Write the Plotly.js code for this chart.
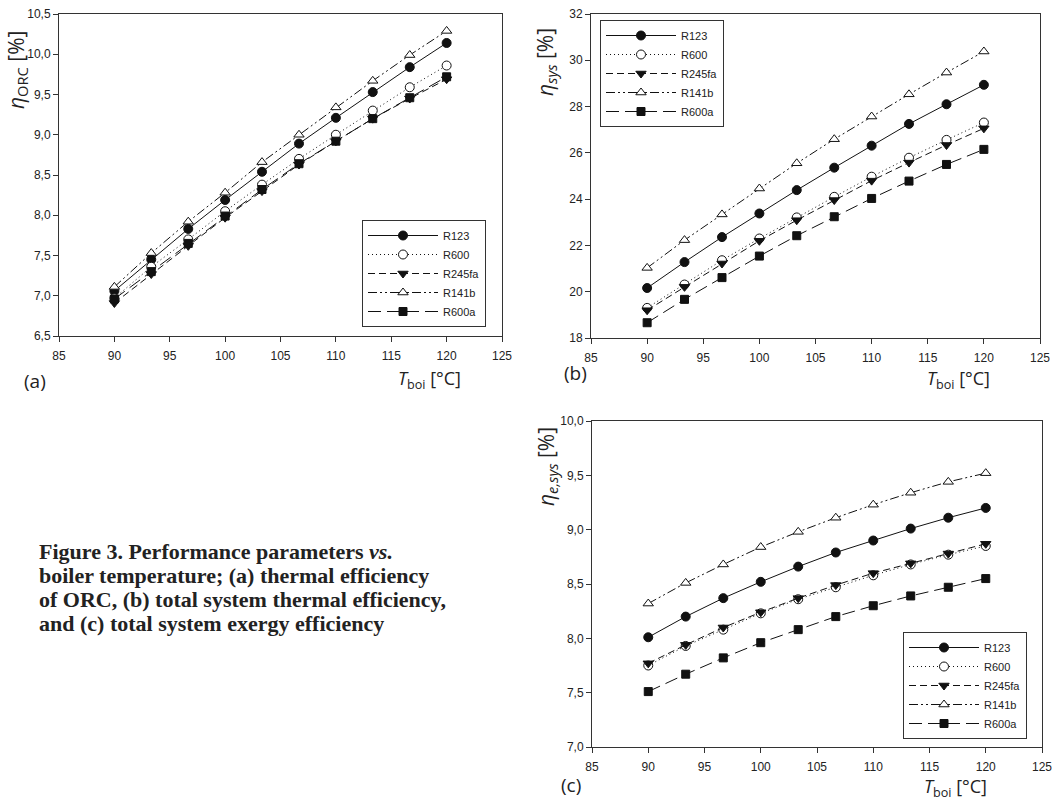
<!DOCTYPE html>
<html><head><meta charset="utf-8">
<script src="https://cdn.plot.ly/plotly-3.0.1.min.js"></script>
<style>html,body{margin:0;padding:0;background:#fff}#chart{width:1057px;height:801px}</style>
</head><body><div id="chart"></div>
<script>
// ---------- data ----------
const tboi = [90, 93.33, 96.67, 100, 103.33, 106.67, 110, 113.33, 116.67, 120];
const refrigerants = ['R123', 'R600', 'R245fa', 'R141b', 'R600a'];

// (a) ORC thermal efficiency [%]
const orcR123   = [7.06, 7.45, 7.83, 8.19, 8.54, 8.89, 9.21, 9.53, 9.84, 10.14];
const orcR600   = [6.97, 7.36, 7.70, 8.05, 8.38, 8.70, 9.00, 9.30, 9.59, 9.86];
const orcR245fa = [6.91, 7.27, 7.62, 7.97, 8.30, 8.63, 8.92, 9.20, 9.45, 9.69];
const orcR141b  = [7.11, 7.53, 7.92, 8.28, 8.66, 9.00, 9.34, 9.67, 9.99, 10.29];
const orcR600a  = [6.96, 7.30, 7.65, 7.99, 8.32, 8.64, 8.92, 9.20, 9.46, 9.72];

// (b) total system thermal efficiency [%]
const sysR123   = [20.16, 21.28, 22.36, 23.38, 24.39, 25.36, 26.31, 27.25, 28.10, 28.94];
const sysR600   = [19.30, 20.31, 21.36, 22.30, 23.21, 24.10, 24.97, 25.79, 26.56, 27.31];
const sysR245fa = [19.20, 20.21, 21.22, 22.20, 23.09, 23.96, 24.80, 25.58, 26.34, 27.06];
const sysR141b  = [21.03, 22.23, 23.34, 24.46, 25.55, 26.59, 27.57, 28.53, 29.47, 30.38];
const sysR600a  = [18.66, 19.67, 20.61, 21.54, 22.42, 23.24, 24.03, 24.78, 25.50, 26.15];

// (c) total system exergy efficiency [%]
const exR123   = [8.01, 8.20, 8.37, 8.52, 8.66, 8.79, 8.90, 9.01, 9.11, 9.20];
const exR600   = [7.75, 7.93, 8.08, 8.23, 8.36, 8.47, 8.58, 8.68, 8.77, 8.85];
const exR245fa = [7.77, 7.94, 8.10, 8.24, 8.37, 8.49, 8.60, 8.69, 8.78, 8.87];
const exR141b  = [8.32, 8.51, 8.68, 8.84, 8.98, 9.11, 9.23, 9.34, 9.44, 9.52];
const exR600a  = [7.51, 7.67, 7.82, 7.96, 8.08, 8.20, 8.30, 8.39, 8.47, 8.55];

const panelA = [orcR123, orcR600, orcR245fa, orcR141b, orcR600a];
const panelB = [sysR123, sysR600, sysR245fa, sysR141b, sysR600a];
const panelC = [exR123, exR600, exR245fa, exR141b, exR600a];

const captionLines = [
  'Figure 3. Performance parameters <i>vs.</i>',
  'boiler temperature; (a) thermal efficiency',
  'of ORC, (b) total system thermal efficiency,',
  'and (c) total system exergy efficiency'
];

// ---------- styles ----------
const INK = '#111';
const styles = {
  R123:   {dash: 'solid', symbol: 'circle', fill: INK, size: 9},
  R600:   {dash: '1px,3px', symbol: 'circle', fill: '#fff', size: 9},
  R245fa: {dash: '7px,4px', symbol: 'triangle-down', fill: INK, size: 9},
  R141b:  {dash: '9px,3px,2px,3px,2px,3px', symbol: 'triangle-up', fill: '#fff', size: 9},
  R600a:  {dash: '13px,6px', symbol: 'square', fill: INK, size: 8}
};

const W = 1057, H = 801;
const px = v => v / W;
const py = v => 1 - v / H;

const traces = [];
[[panelA, 'x', 'y', 'legend'], [panelB, 'x2', 'y2', 'legend2'], [panelC, 'x3', 'y3', 'legend3']]
  .forEach(([panel, xa, ya, lg]) => {
    panel.forEach((vals, i) => {
      const name = refrigerants[i];
      const s = styles[name];
      traces.push({
        x: tboi, y: vals, name: name, type: 'scatter', mode: 'lines+markers',
        xaxis: xa, yaxis: ya, legend: lg, showlegend: true,
        line: {color: INK, width: 1, dash: s.dash},
        marker: {symbol: s.symbol, size: s.size, color: s.fill, line: {color: INK, width: 1}}
      });
    });
  });

const axisBase = {
  showline: true, mirror: true, linecolor: '#333', linewidth: 1,
  ticks: 'outside', ticklen: 5, tickcolor: '#333', tickwidth: 1,
  showgrid: false, zeroline: false, fixedrange: true,
  tickfont: {family: 'Liberation Sans, Arial, sans-serif', size: 12, color: '#222'}
};
const xBase = Object.assign({}, axisBase, {range: [85, 125], dtick: 5, tick0: 85, ticklabelstandoff: 4});

const legendBase = {
  xanchor: 'left', bgcolor: '#fff', bordercolor: '#333', borderwidth: 1,
  font: {family: 'Liberation Sans, Arial, sans-serif', size: 11, color: '#222'},
  itemwidth: 70, tracegroupgap: 0, traceorder: 'normal'
};

const titleFont = {family: 'Open Sans, Noto Sans, sans-serif', size: 19, color: '#222'};
const xTitleFont = {family: 'Open Sans, Noto Sans, sans-serif', size: 18, color: '#222'};
const yTitleFont = {family: 'Open Sans, Noto Sans, sans-serif', size: 21, color: '#222'};
function ann(text, x, y, extra) {
  return Object.assign({text: text, x: px(x), y: py(y), xref: 'paper', yref: 'paper',
    showarrow: false, font: titleFont, xanchor: 'center', yanchor: 'middle'}, extra || {});
}

const annotations = [
  ann('<i>η</i><sub>ORC</sub> [%]', 17, 70, {textangle: -90, font: yTitleFont}),
  ann('<i>η<sub>sys</sub></i> [%]', 546, 62, {textangle: -90, font: yTitleFont}),
  ann('<i>η<sub>e,sys</sub></i> [%]', 547, 467, {textangle: -90, font: yTitleFont}),
  ann('<i>T</i><sub>boi</sub> [°C]', 429, 379, {font: xTitleFont}),
  ann('<i>T</i><sub>boi</sub> [°C]', 958, 379, {font: xTitleFont}),
  ann('<i>T</i><sub>boi</sub> [°C]', 955, 787, {font: xTitleFont}),
  ann('(a)', 35, 381),
  ann('(b)', 575, 373),
  ann('(c)', 571, 785)
];
const capFont = {family: 'Liberation Serif, Times New Roman, serif', size: 22, color: '#222'};
captionLines.forEach((t, i) => {
  annotations.push(ann('<b>' + t + '</b>', 37, 551 + i * 24, {xanchor: 'left', font: capFont}));
});

const layout = {
  width: W, height: H,
  margin: {l: 0, r: 0, t: 0, b: 0},
  paper_bgcolor: '#fff', plot_bgcolor: '#fff',
  separators: ',.',
  showlegend: true,
  xaxis:  Object.assign({}, xBase, {domain: [px(59), px(502)], anchor: 'y'}),
  yaxis:  Object.assign({}, axisBase, {domain: [py(336), py(14)], range: [6.5, 10.5], dtick: 0.5, tick0: 6.5, tickformat: '.1f', anchor: 'x'}),
  xaxis2: Object.assign({}, xBase, {domain: [px(591), px(1040)], anchor: 'y2'}),
  yaxis2: Object.assign({}, axisBase, {domain: [py(338), py(14)], range: [18, 32], dtick: 2, tick0: 18, anchor: 'x2'}),
  xaxis3: Object.assign({}, xBase, {domain: [px(592), px(1042)], anchor: 'y3'}),
  yaxis3: Object.assign({}, axisBase, {domain: [py(747), py(421)], range: [7, 10], dtick: 0.5, tick0: 7, tickformat: '.1f', anchor: 'x3'}),
  legend:  Object.assign({}, legendBase, {x: px(362), y: py(327), yanchor: 'bottom'}),
  legend2: Object.assign({}, legendBase, {x: px(600), y: py(20), yanchor: 'top'}),
  legend3: Object.assign({}, legendBase, {x: px(903), y: py(739), yanchor: 'bottom'}),
  annotations: annotations
};

Plotly.newPlot('chart', traces, layout, {displayModeBar: false, staticPlot: true});
</script>
</body></html>
